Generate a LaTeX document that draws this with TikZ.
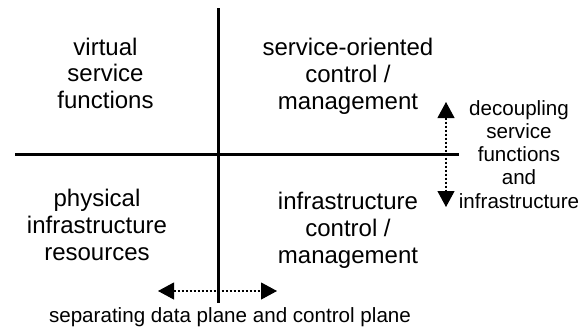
\documentclass[tikz,border=0pt]{standalone}
\usepackage{fontspec}
\setmainfont{Liberation Sans}
\usetikzlibrary{arrows.meta}
\begin{document}
\begin{tikzpicture}[x=1pt, y=-1pt, line join=round,
    >={Triangle[width=17pt,length=16pt]},
    quad/.style={font=\fontsize{24}{26.7}\selectfont, align=center, anchor=base, inner sep=0pt},
    side/.style={font=\fontsize{20.6}{23.2}\selectfont, align=center, anchor=base, inner sep=0pt},
    axis/.style={line width=3pt},
    sep/.style={<->, line width=1.1pt, dash pattern=on 2.5pt off 1.5pt}]
    \def\xa{218}
    \def\yb{154}
    \useasboundingbox (0,0) rectangle (584,335);
    % axes
    \coordinate (top) at (\xa,8);
    \coordinate (bot) at (\xa,303);
    \coordinate (lft) at (15,\yb);
    \coordinate (rgt) at (459,\yb);
    \draw[axis] (top)--(bot) (lft)--(rgt);
    % quadrants (anchored at the last line)
    \node[quad] (vsf) at (105.5,108.5) {virtual\\service\\functions};
    \node[quad] (soc) at (348,109) {service-oriented\\control /\\management};
    \node[quad] (pir) at (97,260) {physical\\infrastructure\\resources};
    \node[quad] (icm) at (348,263) {infrastructure\\control /\\management};
    % arrows
    \coordinate (dcu) at (446,102);
    \coordinate (dcd) at (446,207);
    \coordinate (spl) at (158,291);
    \coordinate (spr) at (277,291);
    \draw[sep] (dcu)--(dcd);
    \draw[sep] (spl)--(spr);
    \node[side] (decoup) at (519,208) {decoupling\\service\\functions\\and\\infrastructure};
    \node[side] (separ) at (230,322) {separating data plane and control plane};
\end{tikzpicture}
\end{document}
